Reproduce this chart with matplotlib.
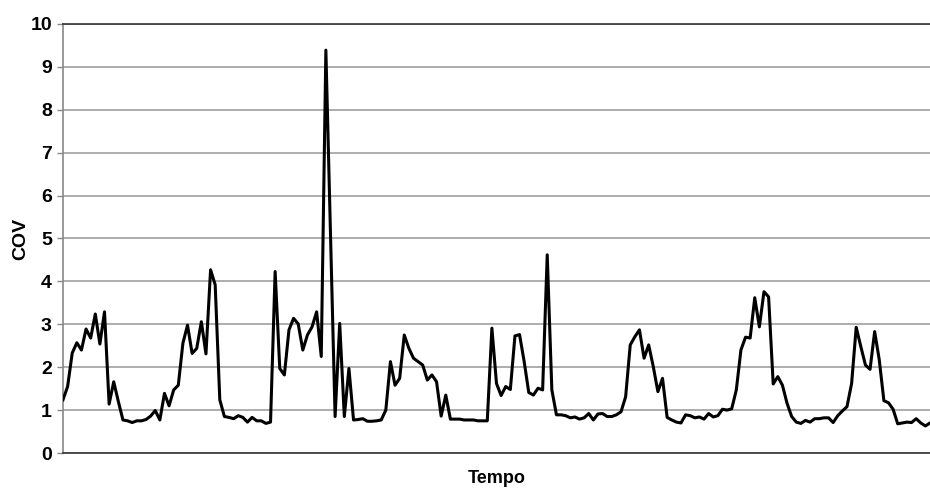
import matplotlib
matplotlib.use("Agg")
import matplotlib.pyplot as plt
import numpy as np

# COV readings, one per time step
cov = [
    1.24, 1.55, 2.33, 2.57, 2.40, 2.89, 2.68, 3.24, 2.54, 3.29,
    1.14, 1.66, 1.20, 0.77, 0.75, 0.71, 0.75, 0.75, 0.78, 0.86,
    0.99, 0.77, 1.39, 1.10, 1.47, 1.58, 2.56, 2.98, 2.32, 2.44,
    3.06, 2.31, 4.27, 3.92, 1.24, 0.85, 0.83, 0.80, 0.87, 0.83,
    0.72, 0.83, 0.75, 0.75, 0.69, 0.72, 4.23, 1.97, 1.82, 2.87,
    3.14, 3.01, 2.40, 2.75, 2.94, 3.29, 2.25, 9.39, 5.10, 0.85,
    3.02, 0.85, 1.97, 0.77, 0.78, 0.80, 0.74, 0.74, 0.75, 0.77,
    1.00, 2.13, 1.58, 1.74, 2.75, 2.44, 2.21, 2.13, 2.05, 1.70,
    1.82, 1.66, 0.86, 1.35, 0.79, 0.79, 0.79, 0.77, 0.77, 0.77,
    0.75, 0.75, 0.75, 2.91, 1.62, 1.34, 1.55, 1.48, 2.73, 2.76,
    2.13, 1.41, 1.35, 1.51, 1.47, 4.62, 1.47, 0.89, 0.89, 0.87,
    0.82, 0.84, 0.79, 0.82, 0.92, 0.77, 0.91, 0.92, 0.85, 0.85,
    0.89, 0.96, 1.31, 2.52, 2.71, 2.87, 2.21, 2.52, 2.01, 1.43,
    1.74, 0.83, 0.77, 0.72, 0.70, 0.89, 0.87, 0.82, 0.84, 0.79,
    0.92, 0.84, 0.87, 1.02, 1.00, 1.03, 1.47, 2.40, 2.70, 2.68,
    3.62, 2.94, 3.76, 3.64, 1.61, 1.78, 1.58, 1.16, 0.85, 0.72,
    0.69, 0.76, 0.72, 0.80, 0.80, 0.82, 0.82, 0.71, 0.87, 0.98,
    1.08, 1.62, 2.93, 2.48, 2.05, 1.95, 2.83, 2.17, 1.22, 1.17,
    1.02, 0.68, 0.70, 0.72, 0.71, 0.80, 0.70, 0.63, 0.70,
]
y_ticks = list(range(0, 11))

plt.rcParams['font.family'] = ['Liberation Sans', 'DejaVu Sans']

fig = plt.figure(figsize=(9.3, 4.88), dpi=100)
ax = fig.add_axes([63 / 930, 35 / 488, 1 - 63 / 930, (453 - 24) / 488])

t = np.arange(len(cov))
ax.plot(t, cov, color='black', linewidth=2.2, zorder=3)

ax.set_xlim(0, len(cov) - 1)
ax.set_ylim(0, 10)
ax.set_yticks(y_ticks)
ax.set_xticks([])
ax.yaxis.grid(True, color='#a0a0a0', linewidth=1.2)
ax.set_axisbelow(True)

for lab in ax.get_yticklabels():
    lab.set_fontweight('bold')
ax.tick_params(axis='y', length=4, width=1, color='#888888', pad=4,
               labelsize=14)

ax.spines['right'].set_visible(False)
ax.spines['top'].set_color('#333333')
ax.spines['top'].set_linewidth(1.2)
ax.spines['bottom'].set_color('#333333')
ax.spines['bottom'].set_linewidth(1.2)
ax.spines['left'].set_color('#888888')
ax.spines['left'].set_linewidth(1.2)

ax.set_ylabel('COV', fontsize=14, fontweight='bold', labelpad=1)
ax.set_xlabel('Tempo', fontsize=13, fontweight='bold', labelpad=12)

fig.savefig('out.png', dpi=100)
